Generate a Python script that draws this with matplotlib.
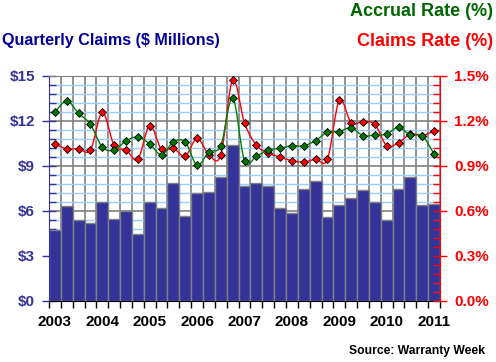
import numpy as np
import matplotlib
matplotlib.use('Agg')
import matplotlib.pyplot as plt
from matplotlib.path import Path
from matplotlib.patches import PathPatch
from matplotlib.ticker import FixedLocator

plt.rcParams['font.family'] = ['Liberation Sans', 'DejaVu Sans']
plt.rcParams['font.weight'] = 'bold'

# Quarterly data, 2003 Q1 .. 2011 Q1
years = ['2003', '2004', '2005', '2006', '2007', '2008', '2009', '2010', '2011']
claims = [4.71, 6.31, 5.36, 5.18, 6.56, 5.42, 5.96, 4.45, 6.56, 6.16, 7.83,
          5.65, 7.16, 7.22, 8.25, 10.36, 7.65, 7.83, 7.63, 6.16, 5.82, 7.42,
          7.96, 5.56, 6.36, 6.83, 7.36, 6.56, 5.36, 7.42, 8.23, 6.36, 6.43]
accrual_rate = [1.256, 1.333, 1.249, 1.176, 1.023, 1.005, 1.065, 1.091, 1.045,
                0.973, 1.058, 1.058, 0.903, 0.993, 1.033, 1.353, 0.933, 0.963,
                1.005, 1.016, 1.033, 1.033, 1.067, 1.125, 1.127, 1.153, 1.100,
                1.105, 1.111, 1.156, 1.105, 1.100, 0.978]
claims_rate = [1.043, 1.013, 1.013, 1.005, 1.256, 1.036, 1.005, 0.943, 1.167,
               1.009, 1.016, 0.963, 1.083, 0.973, 0.973, 1.473, 1.185, 1.038,
               0.983, 0.958, 0.933, 0.925, 0.943, 0.943, 1.336, 1.187, 1.193,
               1.176, 1.033, 1.053, 1.111, 1.100, 1.133]

NAVY = '#333399'
GRID = '#808080'
MINOR = '#99ccff'


def smooth_path(x, y):
    # Catmull-Rom spline expressed as cubic bezier segments
    x = np.asarray(x, float)
    y = np.asarray(y, float)
    px = np.concatenate([[x[0]], x, [x[-1]]])
    py = np.concatenate([[y[0]], y, [y[-1]]])
    verts = [(x[0], y[0])]
    codes = [Path.MOVETO]
    for i in range(1, len(px) - 2):
        c1 = (px[i] + (px[i + 1] - px[i - 1]) / 6, py[i] + (py[i + 1] - py[i - 1]) / 6)
        c2 = (px[i + 1] - (px[i + 2] - px[i]) / 6, py[i + 1] - (py[i + 2] - py[i]) / 6)
        verts += [c1, c2, (px[i + 1], py[i + 1])]
        codes += [Path.CURVE4] * 3
    return Path(verts, codes)


fig = plt.figure(figsize=(4.96, 3.62), dpi=100)
ax = fig.add_axes([49 / 496, 1 - 300.7 / 362, 391 / 496, 225 / 362])

x = np.arange(len(claims))
ax.bar(x, claims, width=1.0, color=NAVY, edgecolor=GRID, linewidth=1.0, zorder=2)

ax.set_xlim(-0.5, len(claims) - 0.5)
ax.set_ylim(0, 15)
ax.set_axisbelow(True)

# x: ticks on quarter boundaries, year labels under first quarter
ax.set_xticks(np.arange(len(claims) + 1) - 0.5)
ax.set_xticklabels([])
ax.set_xticks(np.arange(0, len(claims), 4), years, minor=True)
ax.tick_params(axis='x', which='major', direction='out', length=5, width=1, color='black')
ax.tick_params(axis='x', which='minor', length=0, pad=10, labelsize=11, labelcolor='black')

ax.set_yticks(np.arange(0, 16, 3), ['$%d' % v for v in range(0, 16, 3)])
ax.yaxis.set_minor_locator(FixedLocator(np.arange(0, 15.01, 0.6)))
ax.tick_params(axis='y', which='major', direction='inout', length=10, width=1,
               color=NAVY, labelcolor=NAVY, labelsize=11, pad=5)
ax.tick_params(axis='y', which='minor', direction='in', length=5, width=1, color=NAVY)

ax.grid(axis='x', which='major', color=GRID, linewidth=1.2)
ax.grid(axis='y', which='major', color=GRID, linewidth=1.2)
ax.grid(axis='y', which='minor', color=MINOR, linewidth=1.0)

ax.spines['left'].set_color(NAVY)
ax.spines['right'].set_visible(False)
ax.spines['top'].set_color(GRID)
ax.spines['bottom'].set_color('black')

ax2 = ax.twinx()
ax2.set_ylim(0, 1.5)
ax2.set_yticks(np.arange(0, 1.51, 0.3), ['%.1f%%' % v for v in np.arange(0, 1.51, 0.3)])
ax2.yaxis.set_minor_locator(FixedLocator(np.arange(0, 1.501, 0.06)))
ax2.tick_params(axis='y', which='major', direction='inout', length=10, width=1,
                color='red', labelcolor='red', labelsize=11, pad=5)
ax2.tick_params(axis='y', which='minor', direction='in', length=5, width=1, color='red')
for s in ['left', 'top', 'bottom']:
    ax2.spines[s].set_visible(False)
ax2.spines['right'].set_color('red')

ax2.add_patch(PathPatch(smooth_path(x, claims_rate), fill=False, edgecolor='red', lw=1.0, zorder=3))
ax2.plot(x, claims_rate, ls='none', marker='D', ms=4.5, mfc='red', mec='black', mew=0.6, zorder=4)
ax2.add_patch(PathPatch(smooth_path(x, accrual_rate), fill=False, edgecolor='#008000', lw=1.0, zorder=5))
ax2.plot(x, accrual_rate, ls='none', marker='D', ms=4.5, mfc='#007700', mec='black', mew=0.6, zorder=6)

fig.text(2 / 496, 1 - 41 / 362, 'Quarterly Claims ($ Millions)', color='#000099',
         fontsize=11.6, fontweight='bold', ha='left', va='center')
fig.text(493 / 496, 1 - 11 / 362, 'Accrual Rate (%)', color='#006600',
         fontsize=13, fontweight='bold', ha='right', va='center')
fig.text(493 / 496, 1 - 41 / 362, 'Claims Rate (%)', color='red',
         fontsize=13, fontweight='bold', ha='right', va='center')
fig.text(485 / 496, 1 - 351 / 362, 'Source: Warranty Week', color='black',
         fontsize=8.7, fontweight='bold', ha='right', va='center')

fig.savefig('out.png', dpi=100)
